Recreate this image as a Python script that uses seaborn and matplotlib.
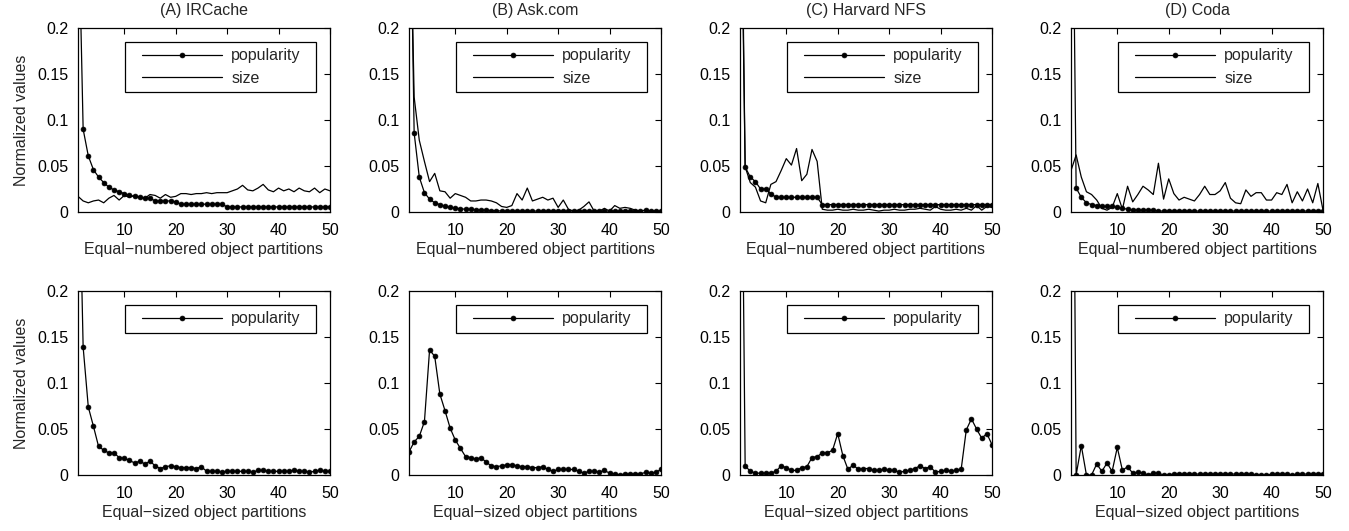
import matplotlib
matplotlib.use("Agg")
import matplotlib.pyplot as plt
import seaborn as sns
from matplotlib.lines import Line2D
from matplotlib.legend_handler import HandlerLine2D

# partitions 1..50
partitions = list(range(1, 51))

titles = ["(A) IRCache", "(B) Ask.com", "(C) Harvard NFS", "(D) Coda"]
xlabel_top = "Equal\u2212numbered object partitions"
xlabel_bottom = "Equal\u2212sized object partitions"
ylabel = "Normalized values"
ytick_vals = [0, 0.05, 0.1, 0.15, 0.2]
ytick_labels = ["0", "0.05", "0.1", "0.15", "0.2"]
xtick_vals = [10, 20, 30, 40, 50]

# top row: equal-numbered partitions
pop_num_A = [0.35, 0.090, 0.061, 0.046, 0.038, 0.032, 0.027, 0.024, 0.022, 0.020,
             0.018, 0.017, 0.016, 0.015, 0.015, 0.012, 0.012, 0.012, 0.012, 0.011,
             0.0085, 0.0085, 0.0085, 0.0085, 0.0085, 0.0085, 0.0085, 0.0085, 0.0085, 0.0055,
             0.0055, 0.0055, 0.0055, 0.0055, 0.0055, 0.0055, 0.0055, 0.0055, 0.0055, 0.0055,
             0.0055, 0.0055, 0.0055, 0.0055, 0.0055, 0.0055, 0.0055, 0.0055, 0.0055, 0.0055]
size_num_A = [0.017, 0.012, 0.010, 0.012, 0.013, 0.010, 0.015, 0.018, 0.013, 0.018,
              0.016, 0.018, 0.016, 0.015, 0.019, 0.018, 0.015, 0.019, 0.016, 0.017,
              0.020, 0.020, 0.019, 0.020, 0.020, 0.021, 0.020, 0.021, 0.021, 0.021,
              0.023, 0.025, 0.029, 0.024, 0.023, 0.026, 0.030, 0.024, 0.022, 0.026,
              0.023, 0.025, 0.022, 0.026, 0.023, 0.022, 0.026, 0.021, 0.025, 0.023]

pop_num_B = [0.45, 0.086, 0.038, 0.021, 0.014, 0.010, 0.008, 0.006, 0.005, 0.004,
             0.0035, 0.003, 0.003, 0.0025, 0.002, 0.002, 0.0015, 0.0015, 0.001, 0.001,
             0.001, 0.001, 0.001, 0.001, 0.001, 0.001, 0.001, 0.001, 0.001, 0.001,
             0.001, 0.001, 0.001, 0.001, 0.001, 0.001, 0.001, 0.001, 0.001, 0.001,
             0.001, 0.001, 0.001, 0.001, 0.001, 0.001, 0.002, 0.001, 0.001, 0.001]
size_num_B = [0.40, 0.125, 0.078, 0.055, 0.033, 0.042, 0.023, 0.022, 0.015, 0.020,
              0.018, 0.016, 0.012, 0.012, 0.013, 0.013, 0.012, 0.010, 0.006, 0.005,
              0.007, 0.020, 0.013, 0.026, 0.012, 0.014, 0.016, 0.013, 0.015, 0.005,
              0.013, 0.003, 0.001, 0.002, 0.006, 0.011, 0.001, 0.001, 0.004, 0.001,
              0.007, 0.004, 0.005, 0.004, 0.002, 0.001, 0.002, 0.001, 0.001, 0.000]

pop_num_C = [0.50, 0.049, 0.038, 0.033, 0.025, 0.025, 0.020, 0.016, 0.016, 0.016,
             0.016, 0.016, 0.016, 0.016, 0.016, 0.016, 0.008, 0.008, 0.008, 0.008,
             0.008, 0.008, 0.008, 0.008, 0.008, 0.008, 0.008, 0.008, 0.008, 0.008,
             0.008, 0.008, 0.008, 0.008, 0.008, 0.008, 0.008, 0.008, 0.008, 0.008,
             0.008, 0.008, 0.008, 0.008, 0.008, 0.008, 0.008, 0.008, 0.008, 0.008]
size_num_C = [0.45, 0.049, 0.032, 0.027, 0.012, 0.010, 0.030, 0.033, 0.045, 0.058,
              0.051, 0.069, 0.034, 0.041, 0.068, 0.055, 0.003, 0.002, 0.002, 0.003,
              0.002, 0.002, 0.003, 0.002, 0.002, 0.003, 0.002, 0.001, 0.002, 0.002,
              0.003, 0.002, 0.002, 0.003, 0.003, 0.004, 0.003, 0.002, 0.006, 0.003,
              0.002, 0.002, 0.003, 0.002, 0.004, 0.002, 0.007, 0.002, 0.006, 0.005]

pop_num_D = [0.55, 0.026, 0.016, 0.010, 0.008, 0.007, 0.006, 0.006, 0.006, 0.005,
             0.004, 0.003, 0.002, 0.002, 0.002, 0.002, 0.002, 0.001, 0.001, 0.001,
             0.001, 0.001, 0.001, 0.001, 0.001, 0.001, 0.001, 0.001, 0.001, 0.001,
             0.001, 0.001, 0.001, 0.001, 0.001, 0.001, 0.001, 0.001, 0.001, 0.001,
             0.001, 0.001, 0.001, 0.001, 0.001, 0.001, 0.001, 0.001, 0.001, 0.001]
size_num_D = [0.045, 0.062, 0.038, 0.022, 0.019, 0.013, 0.004, 0.002, 0.005, 0.020,
              0.003, 0.028, 0.011, 0.019, 0.028, 0.024, 0.019, 0.053, 0.014, 0.036,
              0.020, 0.013, 0.016, 0.014, 0.012, 0.019, 0.028, 0.019, 0.019, 0.023,
              0.032, 0.015, 0.010, 0.009, 0.024, 0.017, 0.021, 0.021, 0.013, 0.013,
              0.021, 0.019, 0.030, 0.010, 0.022, 0.012, 0.025, 0.010, 0.031, 0.002]

# bottom row: equal-sized partitions
pop_size_A = [0.40, 0.139, 0.074, 0.053, 0.031, 0.027, 0.024, 0.024, 0.019, 0.018,
              0.016, 0.013, 0.015, 0.012, 0.015, 0.010, 0.007, 0.009, 0.010, 0.009,
              0.008, 0.008, 0.008, 0.007, 0.009, 0.004, 0.004, 0.004, 0.003, 0.004,
              0.004, 0.004, 0.004, 0.004, 0.003, 0.005, 0.005, 0.004, 0.004, 0.004,
              0.004, 0.004, 0.005, 0.004, 0.004, 0.003, 0.004, 0.005, 0.004, 0.004]
pop_size_B = [0.025, 0.036, 0.042, 0.058, 0.136, 0.129, 0.088, 0.070, 0.051, 0.038,
              0.029, 0.020, 0.019, 0.017, 0.019, 0.014, 0.010, 0.009, 0.010, 0.011,
              0.011, 0.010, 0.009, 0.009, 0.008, 0.008, 0.009, 0.006, 0.004, 0.006,
              0.006, 0.006, 0.006, 0.004, 0.002, 0.004, 0.004, 0.003, 0.005, 0.002,
              0.001, 0.000, 0.001, 0.001, 0.001, 0.001, 0.003, 0.002, 0.003, 0.006]
pop_size_C = [0.60, 0.010, 0.004, 0.002, 0.002, 0.002, 0.002, 0.004, 0.010, 0.008,
              0.005, 0.005, 0.008, 0.009, 0.019, 0.020, 0.024, 0.024, 0.027, 0.045,
              0.021, 0.006, 0.011, 0.006, 0.007, 0.007, 0.005, 0.005, 0.006, 0.005,
              0.005, 0.003, 0.004, 0.005, 0.007, 0.010, 0.007, 0.009, 0.003, 0.004,
              0.005, 0.004, 0.005, 0.006, 0.049, 0.061, 0.050, 0.040, 0.045, 0.033]
pop_size_D = [0.80, 0.000, 0.032, 0.000, 0.000, 0.012, 0.004, 0.013, 0.004, 0.030,
              0.005, 0.009, 0.002, 0.003, 0.002, 0.000, 0.002, 0.002, 0.000, 0.000,
              0.001, 0.001, 0.001, 0.001, 0.001, 0.001, 0.001, 0.001, 0.001, 0.001,
              0.001, 0.001, 0.001, 0.001, 0.001, 0.001, 0.000, 0.000, 0.000, 0.001,
              0.001, 0.001, 0.001, 0.000, 0.001, 0.001, 0.001, 0.001, 0.001, 0.001]

top_pop = [pop_num_A, pop_num_B, pop_num_C, pop_num_D]
top_size = [size_num_A, size_num_B, size_num_C, size_num_D]
bottom_pop = [pop_size_A, pop_size_B, pop_size_C, pop_size_D]

sns.set_theme(style="white")
plt.rcParams["font.family"] = ["Liberation Sans", "DejaVu Sans"]
FS = 11.5

W, H = 1349, 531
fig = plt.figure(figsize=(W / 100, H / 100), dpi=100)

col_left = [78, 409, 740, 1071]  # pixel left edges
ax_w = 252
rows = [(28, 212), (291, 475)]  # pixel top/bottom


class OffsetLineHandler(HandlerLine2D):
    # MATLAB style legend: sample line starts a bit in from the box edge
    def create_artists(self, legend, orig_handle, xdescent, ydescent, width, height,
                       fontsize, trans):
        shift = 0.65 * fontsize
        return super().create_artists(legend, orig_handle, xdescent - shift, ydescent,
                                      width - shift, height, fontsize, trans)


def style_axes(ax):
    ax.set_xlim(1, 50)
    ax.set_ylim(0, 0.2)
    ax.set_xticks(xtick_vals)
    ax.set_yticks(ytick_vals)
    ax.set_yticklabels(ytick_labels)
    ax.tick_params(direction="in", top=True, right=True, length=4, width=0.8,
                   labelsize=FS, colors="black")
    ax.tick_params(axis="y", pad=7)
    ax.tick_params(axis="x", pad=8)
    for sp in ax.spines.values():
        sp.set_color("black")
        sp.set_linewidth(0.9)


def add_legend(ax, ax_h):
    x0 = 47 / ax_w
    w = 191 / ax_w
    top = 1 - 14 / ax_h
    leg = ax.legend(loc="upper left", bbox_to_anchor=(x0, 0, w, top), mode="expand",
                    handlelength=5.7, numpoints=1, fancybox=False, edgecolor="black",
                    framealpha=1, borderpad=0.4, labelspacing=0.45, handletextpad=0.56,
                    borderaxespad=0, fontsize=FS,
                    handler_map={Line2D: OffsetLineHandler()})
    leg.get_frame().set_linewidth(0.9)


for r, (top, bot) in enumerate(rows):
    for c in range(4):
        rect = [col_left[c] / W, 1 - bot / H, ax_w / W, (bot - top) / H]
        ax = fig.add_axes(rect)
        if r == 0:
            sns.lineplot(x=partitions, y=top_pop[c], ax=ax, color="black", linewidth=0.9,
                         marker=".", markersize=7, markeredgecolor="black",
                         markeredgewidth=0.5, label="popularity")
            sns.lineplot(x=partitions, y=top_size[c], ax=ax, color="black", linewidth=0.9,
                         label="size")
            ax.set_title(titles[c], fontsize=FS, pad=9)
            ax.set_xlabel(xlabel_top, fontsize=FS, labelpad=3)
        else:
            sns.lineplot(x=partitions, y=bottom_pop[c], ax=ax, color="black", linewidth=0.9,
                         marker=".", markersize=7, markeredgecolor="black",
                         markeredgewidth=0.5, label="popularity")
            ax.set_xlabel(xlabel_bottom, fontsize=FS, labelpad=3)
        if c == 0:
            ax.set_ylabel(ylabel, fontsize=FS, labelpad=6)
        else:
            ax.set_ylabel("")
        style_axes(ax)
        add_legend(ax, bot - top)

fig.savefig("out.png", dpi=100, facecolor="white")
